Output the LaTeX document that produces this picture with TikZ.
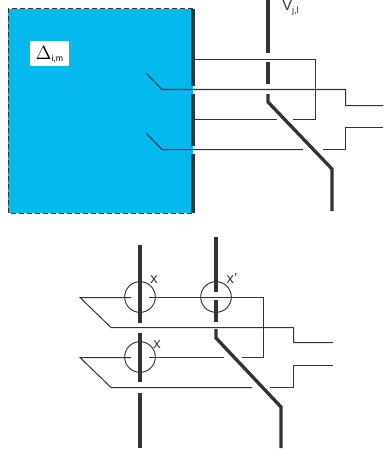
\documentclass[tikz,border=0pt]{standalone}
\usepackage{fontspec}
\setsansfont{Liberation Sans}
\definecolor{areablue}{HTML}{05B8EE}
\definecolor{wire}{HTML}{333333}
\tikzset{
  bus/.style={line width=2.5pt, color=wire},
  ctrl/.style={line width=0.75pt, color=wire},
  marker/.style={circle, draw=wire, line width=0.7pt, minimum size=23pt, inner sep=0pt},
  tag/.style={inner sep=0pt, font=\sffamily\fontsize{11}{11}\selectfont, color=wire}
}
\begin{document}
\begin{tikzpicture}[x=0.75pt, y=-0.75pt]
  \useasboundingbox (0,0) rectangle (383,453);

  % upper part
  \fill[areablue] (8,9) rectangle (193,213);
  \draw[ctrl, dash pattern=on 3.5pt off 2.5pt] (193,9) -- (8,9) -- (8,213) -- (193,213);
  \node[fill=white, minimum width=29.5pt, minimum height=18.5pt, inner sep=0pt] (label) at (49.5,53.5) {};
  \node[tag, anchor=base, color=black] (delta) at (49.5,60) {\fontsize{14}{14}\selectfont$\Delta$\raisebox{-1.5pt}{\fontsize{6.5}{6.5}\selectfont i,m}};
  \node[tag, anchor=base west] (volt) at (282,10.5) {V\raisebox{-2.5pt}{\fontsize{7}{7}\selectfont j,l}};

  \foreach \a/\b in {9/86, 94/146, 154/213}
    \draw[bus] (193,\a) -- (193,\b);
  \foreach \a/\b in {-2/53, 62/84}
    \draw[bus] (268,\a) -- (268,\b);
  \draw[bus] (268,94) -- (268,102) -- (332,169) -- (332,211);

  \draw[ctrl] (277,119.5) -- (194,119.5) (194,59.5) -- (315.5,59.5) -- (315.5,119.5) -- (293,119.5);
  \draw[ctrl] (146,73) -- (162,89.5) -- (345.5,89.5) -- (345.5,105.5) -- (383,105.5);
  \draw[ctrl] (146,133) -- (162,149.5) -- (303,149.5);
  \draw[ctrl] (323,149.5) -- (345.5,149.5) -- (345.5,127.5) -- (383,127.5);

  % lower part
  \node[marker] (x1) at (140,297) {};
  \node[marker] (x2) at (216,297) {};
  \node[marker] (x3) at (140,357) {};
  \node[tag, anchor=base] (x1l) at (154,283) {x};
  \node[tag, anchor=base] (x2l) at (232,283) {x'};
  \node[tag, anchor=base] (x3l) at (157,348) {x};

  \foreach \a/\b in {245/323, 333/382, 393/448}
    \draw[bus] (140,\a) -- (140,\b);
  \foreach \a/\b in {237/292, 300/322}
    \draw[bus] (216,\a) -- (216,\b);
  \draw[bus] (216,329) -- (216,338) -- (281,407) -- (281,448);

  \draw[ctrl] (131,297.5) -- (80,297.5) -- (111,327.5) -- (293.5,327.5) -- (293.5,342.5) -- (333,342.5);
  \draw[ctrl] (149,297.5) -- (263.5,297.5) -- (263.5,357.5) -- (242,357.5);
  \draw[ctrl] (131,357.5) -- (80,357.5) -- (111,387.5) -- (252,387.5);
  \draw[ctrl] (149,357.5) -- (224,357.5);
  \draw[ctrl] (270,387.5) -- (293.5,387.5) -- (293.5,365.5) -- (333,365.5);
\end{tikzpicture}
\end{document}
